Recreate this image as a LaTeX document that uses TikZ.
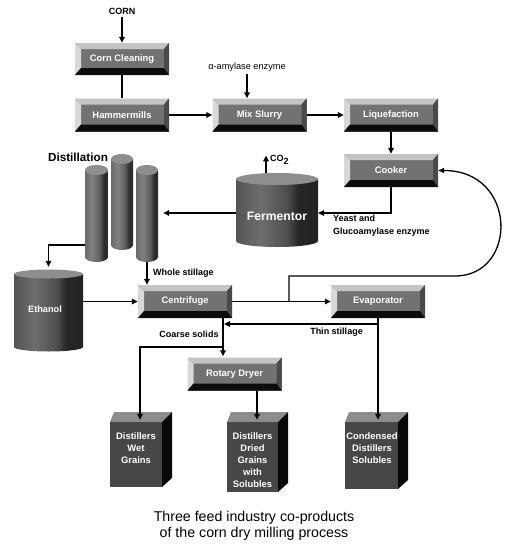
\documentclass[tikz,border=0pt]{standalone}
\usepackage{fontspec}
\setmainfont{Liberation Sans}
\usetikzlibrary{arrows.meta,calc}

\definecolor{face}{HTML}{727272}
\definecolor{bevT}{HTML}{C4C4C4}
\definecolor{bevL}{HTML}{D8D8D8}
\definecolor{bevR}{HTML}{4A4A4A}
\definecolor{bevB}{HTML}{0C0C0C}
\definecolor{cyltop}{HTML}{8E8E8E}
\definecolor{pfront}{HTML}{474747}
\definecolor{ptop}{HTML}{8C8C8C}
\definecolor{pside}{HTML}{080808}
\definecolor{ca0}{HTML}{2E2E2E}
\definecolor{ca1}{HTML}{404040}
\definecolor{ca2}{HTML}{6E6E6E}
\definecolor{ca3}{HTML}{4E4E4E}
\definecolor{ca4}{HTML}{262626}
\definecolor{ca5}{HTML}{1C1C1C}
\definecolor{cb0}{HTML}{4A4A4A}
\definecolor{cb1}{HTML}{5A5A5A}
\definecolor{cb2}{HTML}{808080}
\definecolor{cb3}{HTML}{606060}
\definecolor{cb4}{HTML}{2E2E2E}
\definecolor{cb5}{HTML}{262626}

\pgfdeclarehorizontalshading{cylA}{100bp}{color(0bp)=(ca0); color(14bp)=(ca1); color(40bp)=(ca2); color(56bp)=(ca3); color(63bp)=(ca4); color(100bp)=(ca5)}
\pgfdeclarehorizontalshading{cylB}{100bp}{color(0bp)=(cb0); color(14bp)=(cb1); color(40bp)=(cb2); color(56bp)=(cb3); color(66bp)=(cb4); color(100bp)=(cb5)}

% #1 ry, #2 left x, #3 right x, #4 top centre y, #5 bottom centre y, #6 shading
\newcommand{\mycylinder}[6]{%
  \pgfmathsetmacro{\cylrx}{(#3-#2)/2}%
  \pgfmathsetmacro{\cylcx}{(#3+#2)/2}%
  \shade[shading=#6] (#2,#4) -- (#2,#5) arc[start angle=180,end angle=360,x radius=\cylrx pt,y radius=#1pt] -- (#3,#4) -- cycle;
  \fill[cyltop] (\cylcx,#4) ellipse[x radius=\cylrx pt,y radius=#1pt];
}

\tikzset{
  bev/.style={fill=face, inner sep=0pt, minimum width=94pt, minimum height=33pt,
    text=white, font=\bfseries\fontsize{9.4}{11}\selectfont,
    path picture={
      \fill[bevL] (path picture bounding box.north west) -- (path picture bounding box.south west)
         -- ([shift={(6pt,7pt)}]path picture bounding box.south west)
         -- ([shift={(6pt,-6pt)}]path picture bounding box.north west) -- cycle;
      \fill[bevT] (path picture bounding box.north west) -- (path picture bounding box.north east)
         -- ([shift={(-5pt,-6pt)}]path picture bounding box.north east)
         -- ([shift={(6pt,-6pt)}]path picture bounding box.north west) -- cycle;
      \fill[bevR] (path picture bounding box.north east) -- (path picture bounding box.south east)
         -- ([shift={(-5pt,7pt)}]path picture bounding box.south east)
         -- ([shift={(-5pt,-6pt)}]path picture bounding box.north east) -- cycle;
      \fill[bevB] (path picture bounding box.south west) -- (path picture bounding box.south east)
         -- ([shift={(-5pt,7pt)}]path picture bounding box.south east)
         -- ([shift={(6pt,7pt)}]path picture bounding box.south west) -- cycle;
    }},
  lbl/.style={font=\bfseries\fontsize{9}{10.5}\selectfont, inner sep=0pt},
  wtxt/.style={text=white, font=\bfseries\fontsize{9.4}{12}\selectfont, align=center, inner sep=0pt},
  pfr/.style={fill=pfront, inner sep=0pt},
  body/.style={inner sep=0pt},
  arr/.style={line width=1.9pt, -{Triangle[length=6pt,width=5.5pt]}},
  ln/.style={line width=1.9pt},
  rec/.style={line width=1.3pt, -{Triangle[length=6pt,width=5pt]}}
}

\begin{document}
\begin{tikzpicture}[x=1pt,y=-1pt]
\fill[white] (0,0) rectangle (510,546);
\useasboundingbox (0,0) rectangle (510,546);

% ---- cylinders
\mycylinder{6}{236}{318}{179}{241}{cylA}
\mycylinder{4.5}{14}{83}{274}{347}{cylA}
\mycylinder{5}{85}{108}{170}{257}{cylB}
\mycylinder{5}{111}{133}{159}{245}{cylB}
\mycylinder{5}{136}{158}{170}{257}{cylB}

\node[body, minimum width=82pt, minimum height=74pt] (ferm) at (277,210) {};
\node[body, minimum width=69pt, minimum height=83pt] (eth) at (48.5,310.5) {};
\node[body, minimum width=23pt, minimum height=97pt] (col1) at (96.5,213.5) {};
\node[body, minimum width=22pt, minimum height=96pt] (col2) at (122,202) {};
\node[body, minimum width=22pt, minimum height=97pt] (col3) at (147,213.5) {};

\node[font=\bfseries\fontsize{12.2}{14}\selectfont, text=white, inner sep=0pt] (fermT) at (277,216) {Fermentor};
\node[font=\bfseries\fontsize{9.2}{11}\selectfont, text=white, inner sep=0pt] (ethT) at (45,309) {Ethanol};

% ---- product boxes
\fill[ptop] (110,422) -- (114,412) -- (172,412) -- (162,422) -- cycle;
\fill[pside] (162,422) -- (172,412) -- (172,478) -- (162,487) -- cycle;
\node[pfr, minimum width=52pt, minimum height=65pt] (dwg) at (136,454.5) {};
\fill[ptop] (227,422) -- (231,412) -- (288,412) -- (278,422) -- cycle;
\fill[pside] (278,422) -- (288,412) -- (288,483) -- (278,492) -- cycle;
\node[pfr, minimum width=51pt, minimum height=70pt] (ddgs) at (252.5,457) {};
\fill[ptop] (345,422) -- (349,412) -- (408,412) -- (398,422) -- cycle;
\fill[pside] (398,422) -- (408,412) -- (408,480) -- (398,489) -- cycle;
\node[pfr, minimum width=53pt, minimum height=67pt] (cds) at (371.5,455.5) {};

\node[wtxt] (dwgT) at (136,448) {Distillers\\Wet\\Grains};
\node[wtxt] (ddgsT) at (252.5,460) {Distillers\\Dried\\Grains\\with\\Solubles};
\node[wtxt] (cdsT) at (372,448) {Condensed\\Distillers\\Solubles};

% ---- bevel boxes
\node[bev, minimum height=32pt] (clean) at (122,59) {Corn Cleaning};
\node[bev] (hammer) at (122,115) {Hammermills};
\node[bev] (mix) at (259.5,115) {Mix Slurry};
\node[bev] (liq) at (391,115) {Liquefaction};
\node[bev] (cooker) at (391,170.5) {Cooker};
\node[bev] (cent) at (185,301.5) {Centrifuge};
\node[bev] (evap) at (378,301.5) {Evaporator};
\node[bev] (rot) at (234.5,374) {Rotary Dryer};

% ---- labels
\node[lbl] (corn) at (122,11) {CORN};
\node[font=\fontsize{9.2}{11}\selectfont, inner sep=0pt] (amyl) at (247,67) {α-amylase enzyme};
\node[lbl, anchor=west] (co2) at (270,160) {CO\raisebox{-2.5pt}{2}};
\node[lbl, anchor=west, align=left, font=\bfseries\fontsize{9}{13}\selectfont] (yeast) at (333,225.5) {Yeast and\\Glucoamylase enzyme};
\node[font=\bfseries\fontsize{11.7}{13}\selectfont, inner sep=0pt] (dist) at (78,157) {Distillation};
\node[lbl, anchor=west] (whole) at (153,273) {Whole stillage};
\node[lbl] (coarse) at (189,334) {Coarse solids};
\node[lbl] (thin) at (336.5,332) {Thin stillage};
\node[font=\fontsize{14.2}{16}\selectfont, align=center, inner sep=0pt] (cap) at (254,526) {Three feed industry co-products\\of the corn dry milling process};

% ---- named points
\coordinate (co2base) at (266,173);
\coordinate (fermW) at (236,213);
\coordinate (fermE) at (318,213);
\coordinate (col1W) at (85,245);
\coordinate (cbot) at (223,318);
\coordinate (cj) at (223,347);
\coordinate (tsend) at (224,324);
\coordinate (rb) at (289,301.5);
\coordinate (rtop) at (289,276);
\coordinate (rturn) at (455,276);
\coordinate (rdry) at (257,391);

% ---- connectors
\draw[arr, shorten <=3pt] (corn.south) -- (clean.north);
\draw[ln] (clean.south) -- (hammer.north);
\draw[arr] (hammer.east) -- (mix.west);
\draw[arr, shorten <=3pt] (amyl.south) -- (amyl.south |- mix.north);
\draw[arr] (mix.east) -- (liq.west);
\draw[arr] (liq.south) -- (cooker.north);
\draw[arr] (cooker.south) |- (fermE);
\draw[arr, line width=1.4pt] (co2base) -- (co2base |- co2.north);
\draw[arr, shorten >=5pt] (fermW) -- (col3.east |- fermW);
\draw[arr, shorten >=2pt] (col1W) -| (eth.north);
\draw[arr] (col3.south) -- (col3.south |- cent.north);
\draw[arr] (eth.east |- cent.west) -- (cent.west);
\draw[arr] (cent.east) -- (evap.west);
\draw[rec] (rb) -- (rtop) -- (rturn) .. controls (518,276) and (518,170.5) .. (cooker.east);
\draw[arr, shorten >=1pt] (cbot) -- (cbot |- rot.north);
\draw[arr, shorten >=2pt] (cj) -| ([xshift=4pt]dwg.north);
\draw[arr] (evap.south) |- (tsend);
\draw[arr, shorten >=2pt] (evap.south) -- (evap.south |- cds.north);
\draw[arr, shorten >=2pt] (rdry) -- (rdry |- ddgs.north);
\end{tikzpicture}
\end{document}
